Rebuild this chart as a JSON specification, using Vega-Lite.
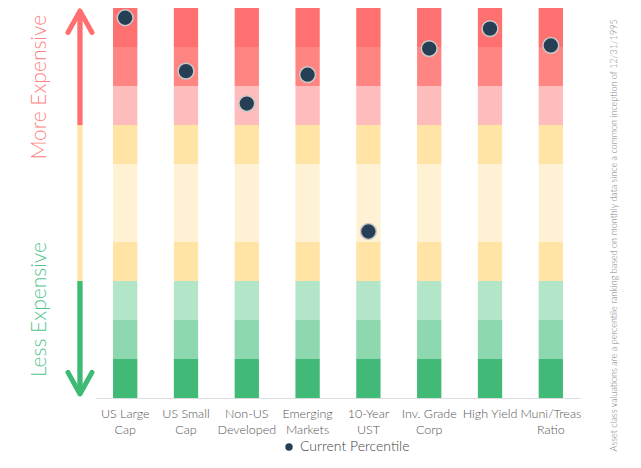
{
  "$schema": "https://vega.github.io/schema/vega-lite/v6.json",
  "background": "white",
  "padding": {"left": 0, "top": 6, "right": 0, "bottom": 0},
  "spacing": 0,
  "config": {"view": {"stroke": null}, "font": "Lato"},
  "datasets": {
    "assets": [
      {"asset": "US Large\nCap", "pct": 97.5, "lo": [0, 10, 20, 30, 40, 60, 70, 80, 90], "hi": [10, 20, 30, 40, 60, 70, 80, 90, 100]},
      {"asset": "US Small\nCap", "pct": 83.8, "lo": [0, 10, 20, 30, 40, 60, 70, 80, 90], "hi": [10, 20, 30, 40, 60, 70, 80, 90, 100]},
      {"asset": "Non-US\nDeveloped", "pct": 75.5, "lo": [0, 10, 20, 30, 40, 60, 70, 80, 90], "hi": [10, 20, 30, 40, 60, 70, 80, 90, 100]},
      {"asset": "Emerging\nMarkets", "pct": 82.9, "lo": [0, 10, 20, 30, 40, 60, 70, 80, 90], "hi": [10, 20, 30, 40, 60, 70, 80, 90, 100]},
      {"asset": "10-Year\nUST", "pct": 42.7, "lo": [0, 10, 20, 30, 40, 60, 70, 80, 90], "hi": [10, 20, 30, 40, 60, 70, 80, 90, 100]},
      {"asset": "Inv. Grade\nCorp", "pct": 89.6, "lo": [0, 10, 20, 30, 40, 60, 70, 80, 90], "hi": [10, 20, 30, 40, 60, 70, 80, 90, 100]},
      {"asset": "High Yield", "pct": 94.7, "lo": [0, 10, 20, 30, 40, 60, 70, 80, 90], "hi": [10, 20, 30, 40, 60, 70, 80, 90, 100]},
      {"asset": "Muni/Treas\nRatio", "pct": 90.4, "lo": [0, 10, 20, 30, 40, 60, 70, 80, 90], "hi": [10, 20, 30, 40, 60, 70, 80, 90, 100]}
    ]
  },
  "hconcat": [
    {
      "width": 96,
      "height": 390,
      "resolve": {"scale": {"color": "independent", "shape": "independent"}},
      "layer": [
        {
          "data": {"values": [
            {"label": "More Expensive", "pct": 79.7, "tone": "more"},
            {"label": "Less Expensive", "pct": 22.7, "tone": "less"}
          ]},
          "mark": {"type": "text", "angle": 270, "fontSize": 21, "fontWeight": 300, "align": "center", "baseline": "middle"},
          "encoding": {
            "x": {"datum": 0.417, "type": "quantitative", "scale": {"domain": [0, 1]}, "axis": null},
            "y": {"field": "pct", "type": "quantitative", "scale": {"domain": [0, 100]}, "axis": null},
            "text": {"field": "label"},
            "color": {"field": "tone", "type": "nominal", "scale": {"domain": ["more", "less"], "range": ["#FF8080", "#52C48A"]}, "legend": null}
          }
        },
        {
          "data": {"values": [
            {"from": 70, "to": 99.2, "tone": "red"},
            {"from": 30, "to": 70, "tone": "yellow"},
            {"from": 1, "to": 30, "tone": "green"}
          ]},
          "mark": {"type": "rule", "strokeWidth": 5.3},
          "encoding": {
            "x": {"datum": 0.833, "type": "quantitative"},
            "y": {"field": "from", "type": "quantitative"},
            "y2": {"field": "to"},
            "color": {"field": "tone", "type": "nominal", "scale": {"domain": ["red", "yellow", "green"], "range": ["#FF6F6F", "#FFE4A6", "#3DBA74"]}, "legend": null}
          }
        },
        {
          "data": {"values": [
            {"tip": "up", "pct": 96.5},
            {"tip": "down", "pct": 3.8}
          ]},
          "mark": {"type": "point", "filled": false, "strokeWidth": 5, "size": 576, "strokeJoin": "round", "strokeCap": "round", "opacity": 1},
          "encoding": {
            "x": {"datum": 0.833, "type": "quantitative"},
            "y": {"field": "pct", "type": "quantitative"},
            "shape": {"field": "tip", "type": "nominal", "scale": {"domain": ["up", "down"], "range": ["M-1,0.9L0,-0.9L1,0.9", "M-1,-0.9L0,0.9L1,-0.9"]}, "legend": null},
            "color": {"field": "tip", "type": "nominal", "scale": {"domain": ["up", "down"], "range": ["#FF6F6F", "#3DBA74"]}, "legend": null}
          }
        }
      ]
    },
    {
      "width": 484,
      "height": 390,
      "data": {"name": "assets"},
      "encoding": {
        "x": {
          "field": "asset", "type": "nominal", "sort": null,
          "scale": {"paddingInner": 0.6, "paddingOuter": 0.28},
          "axis": {
            "title": null,
            "labelExpr": "split(datum.label, '\\n')",
            "labelFontSize": 12.5,
            "labelFont": "Lato",
            "labelFontWeight": 300,
            "labelColor": "#555555",
            "labelAngle": 0,
            "labelPadding": 9,
            "labelLineHeight": 16,
            "ticks": false,
            "domainColor": "#DDDDDD",
            "domainWidth": 1.2
          }
        }
      },
      "layer": [
        {
          "transform": [{"flatten": ["lo", "hi"]}],
          "mark": {"type": "bar"},
          "encoding": {
            "y": {"field": "lo", "type": "quantitative", "scale": {"domain": [0, 100]}, "axis": null},
            "y2": {"field": "hi"},
            "color": {
              "field": "lo", "type": "ordinal",
              "scale": {"domain": [0, 10, 20, 30, 40, 60, 70, 80, 90], "range": ["#41BA77", "#8DD8AE", "#B3E5C9", "#FFE4A6", "#FFF1D3", "#FFE4A6", "#FFBCBC", "#FF8582", "#FF7070"]},
              "legend": null
            }
          }
        },
        {
          "mark": {"type": "point", "shape": "circle", "filled": true, "size": 250, "stroke": "#C9C9C9", "strokeWidth": 1.5, "opacity": 1},
          "encoding": {
            "y": {"field": "pct", "type": "quantitative"},
            "fill": {
              "datum": "Current Percentile", "type": "nominal",
              "scale": {"range": ["#263F55"]},
              "legend": {
                "title": null, "orient": "none", "legendX": 282, "legendY": 432, "direction": "horizontal",
                "symbolType": "circle", "symbolSize": 55, "symbolStrokeWidth": 0,
                "labelFontSize": 14, "labelFont": "Lato", "labelFontWeight": 300, "labelColor": "#444444"
              }
            }
          }
        }
      ]
    },
    {
      "width": 61,
      "height": 390,
      "data": {"values": [{"note": "Asset class valuations are a percentile ranking based on monthly data since a common inception of 12/31/1995"}]},
      "mark": {"type": "text", "angle": 270, "fontSize": 9, "fontWeight": 300, "color": "#808080", "align": "center", "baseline": "middle"},
      "encoding": {
        "x": {"datum": 0.54, "type": "quantitative", "scale": {"domain": [0, 1]}, "axis": null},
        "y": {"datum": 41.7, "type": "quantitative", "scale": {"domain": [0, 100]}, "axis": null},
        "text": {"field": "note"}
      }
    }
  ]
}
